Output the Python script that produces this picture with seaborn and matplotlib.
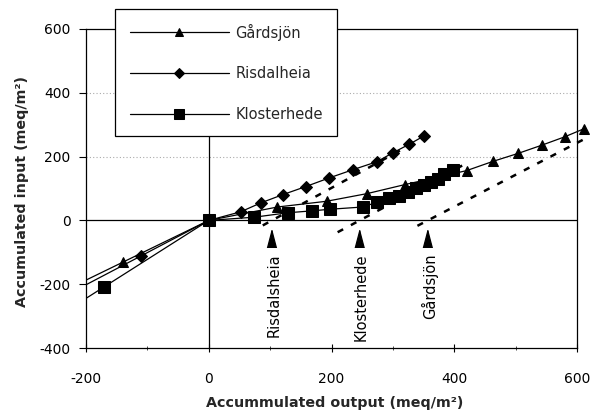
import matplotlib
matplotlib.use("Agg")
import matplotlib.pyplot as plt
import numpy as np
import pandas as pd
import seaborn as sns

# Accumulated output / input per site (meq/m2)
sites = ["Gårdsjön", "Risdalheia", "Klosterhede"]

gardsjon_out = [-140, 0, 112, 192, 258, 319, 420, 463, 504, 543, 580, 611]
gardsjon_in = [-131, 0, 42, 60, 84, 112, 156, 185, 210, 236, 262, 287]

risdal_out = [-111, 0, 52, 85, 121, 158, 196, 235, 274, 300, 326, 351]
risdal_in = [-112, 0, 27, 55, 81, 106, 133, 159, 184, 212, 238, 265]

kloster_out = [-171, 0, 74, 129, 169, 198, 251, 274, 294, 310, 324, 338,
               351, 362, 373, 383, 398]
kloster_in = [-209, 0, 10, 24, 30, 35, 42, 57, 69, 78, 88, 100,
              110, 120, 131, 144, 158]

# Steady-state reference lines: x-intercept, slope and x-extent
arrow_labels = ["Risdalsheia", "Klosterhede", "Gårdsjön"]
ref_intercepts = [103, 246, 357]
ref_slopes = [1.05, 1.03, 1.0]
ref_x_start = [88, 210, 340]
ref_x_end = [355, 418, 615]

x_ticks = [-200, 0, 200, 400, 600]
y_ticks = [-400, -200, 0, 200, 400, 600]

df = pd.concat([
    pd.DataFrame({"output": gardsjon_out, "input": gardsjon_in, "site": sites[0]}),
    pd.DataFrame({"output": risdal_out, "input": risdal_in, "site": sites[1]}),
    pd.DataFrame({"output": kloster_out, "input": kloster_in, "site": sites[2]}),
])

sns.set_theme(style="white")
plt.rcParams["font.family"] = ["DejaVu Sans"]
plt.rcParams["axes.unicode_minus"] = False

fig = plt.figure(figsize=(5.92, 4.15), dpi=100)
ax = fig.add_axes([86 / 592, 67 / 415, 491 / 592, 319 / 415])

ax.set_xlim(-200, 600)
ax.set_ylim(-400, 600)

# light dotted gridlines and black zero lines
for yv in [200, 400]:
    ax.axhline(yv, color="#aaaaaa", lw=0.8, ls=(0, (1, 2)), zorder=0)
ax.axhline(0, color="black", lw=0.9, zorder=1)
ax.axvline(0, color="black", lw=0.9, zorder=1)

markers = {sites[0]: "^", sites[1]: "D", sites[2]: "s"}
msizes = {sites[0]: 7.5, sites[1]: 6, sites[2]: 8.5}

for site in sites:
    d = df[df["site"] == site]
    # extend the first segment back to the left edge
    neg = d[d["output"] < 0].iloc[0]
    slope = neg["input"] / neg["output"]
    xl = ax.get_xlim()[0]
    ax.plot([xl, neg["output"]], [slope * xl, neg["input"]],
            color="black", lw=0.9, zorder=2)
    sns.lineplot(data=d, x="output", y="input", ax=ax, sort=False,
                 estimator=None, color="black", lw=0.9,
                 marker=markers[site], markersize=msizes[site],
                 markeredgecolor="black", markerfacecolor="black",
                 label=site, zorder=3, clip_on=False)

# dashed steady-state lines
for x0, s, xa, xb in zip(ref_intercepts, ref_slopes, ref_x_start, ref_x_end):
    xs = np.array([xa, xb])
    ax.plot(xs, s * (xs - x0), color="black", lw=1.8,
            ls=(0, (2.5, 3.5)), zorder=2, clip_on=False)

# arrows and labels at the x-intercepts
for lab, x0 in zip(arrow_labels, ref_intercepts):
    ax.annotate("", xy=(x0, -25), xytext=(x0, -108),
                arrowprops=dict(arrowstyle="-|>,head_length=0.65,head_width=0.17",
                                color="black", lw=0.9, mutation_scale=20,
                                shrinkA=0, shrinkB=0), zorder=4)
    ax.text(x0 + 3, -104, lab, rotation=90, ha="center", va="top",
            fontsize=10.5, color="black", zorder=5, clip_on=False,
            bbox=dict(facecolor="white", edgecolor="none", pad=4))

ax.set_xticks(x_ticks)
ax.set_yticks(y_ticks)
ax.set_xticks([-100, 100, 300, 500], minor=True)
ax.tick_params(axis="y", direction="out", length=5, width=0.8, left=True,
               labelsize=10, pad=6, colors="black")
ax.tick_params(axis="x", which="major", direction="inout", length=6, width=0.8,
               bottom=True, labelsize=10, pad=14, colors="black")
ax.tick_params(axis="x", which="minor", direction="inout", length=3, width=0.6,
               bottom=True)

for sp in ax.spines.values():
    sp.set_color("black")
    sp.set_linewidth(0.9)
    sp.set_visible(True)

ax.set_xlabel("Accummulated output (meq/m²)", fontsize=10.3, fontweight="bold")
ax.set_ylabel("Accumulated input (meq/m²)", fontsize=10.3, fontweight="bold")
ax.xaxis.label.set_va("center")
ax.yaxis.label.set_va("center")
ax.xaxis.set_label_coords(0.507, -0.172)
ax.yaxis.set_label_coords(-0.130, 0.492)

handles, labels = ax.get_legend_handles_labels()
leg = ax.legend(handles, labels, loc="upper left",
                bbox_to_anchor=(115 / 592, 1 - 9 / 415),
                bbox_transform=fig.transFigure, borderaxespad=0,
                numpoints=1, handlelength=6.8, handletextpad=0.45,
                labelspacing=1.75, borderpad=1.0, fontsize=10.5,
                markerscale=0.85,
                frameon=True, fancybox=False, framealpha=1,
                edgecolor="black", facecolor="white")
leg.get_frame().set_linewidth(0.9)
leg.set_zorder(6)

fig.savefig("out.png", dpi=100, facecolor="white")
